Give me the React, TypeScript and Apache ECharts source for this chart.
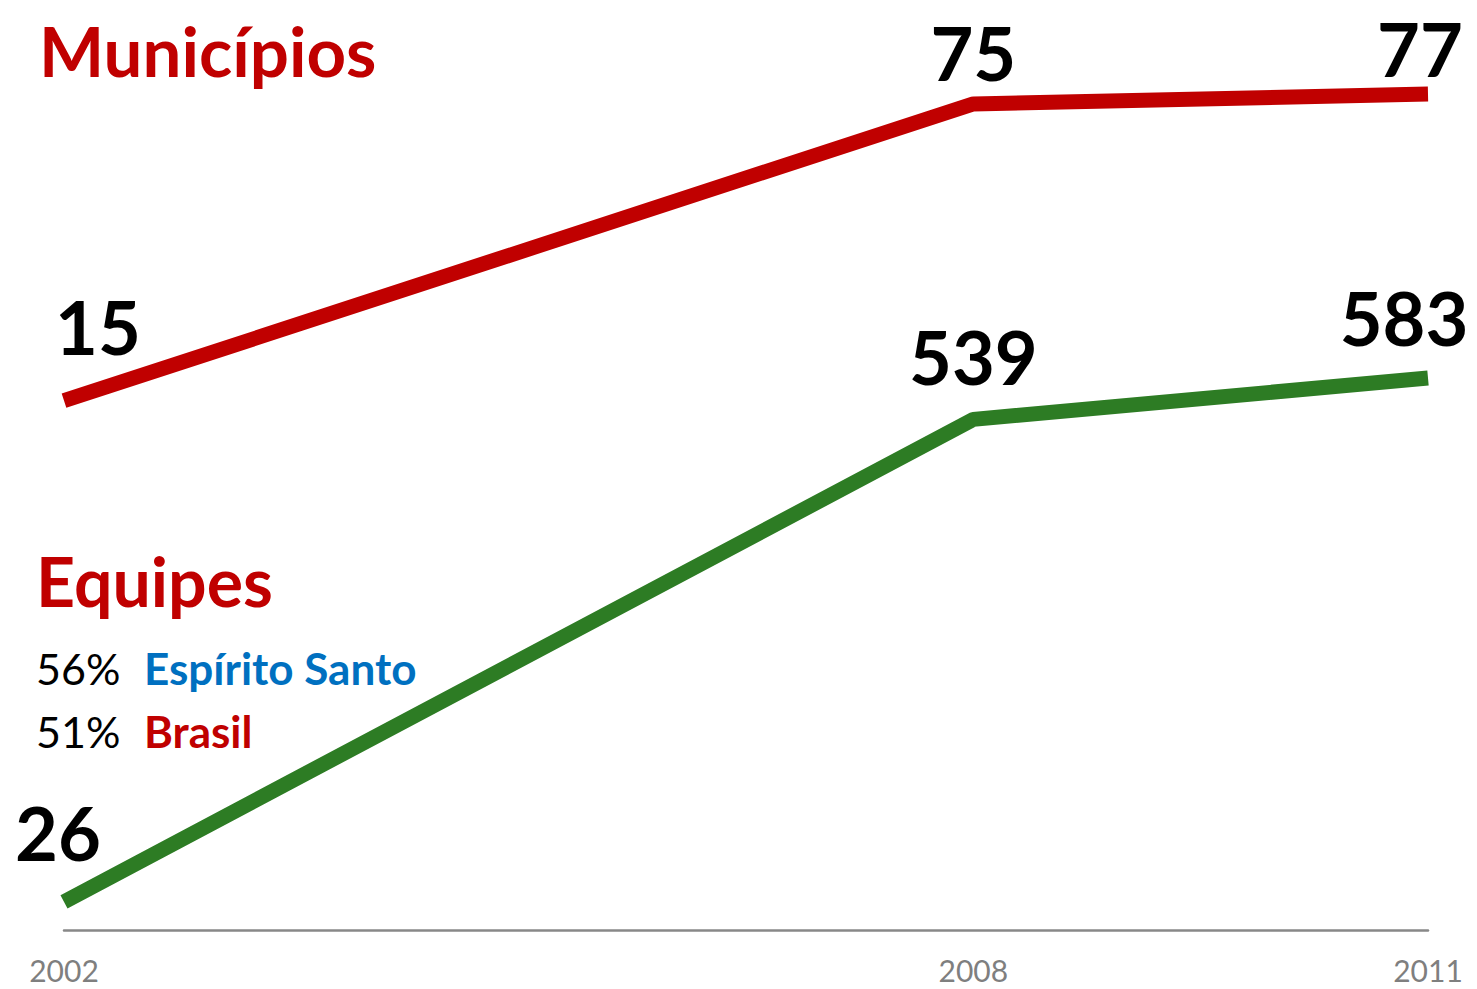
import React, { useEffect, useRef } from "react";
import * as echarts from "echarts";

const years = [2002, 2008, 2011];
const municipios = [15, 75, 77];
const equipes = [26, 539, 583];
const shownYears = ["2002", "2008", "2011"];
const legendRows = [
  { pct: "56%", name: "Espírito Santo", color: "#0070c0" },
  { pct: "51%", name: "Brasil", color: "#c00000" },
];

const FONT = "Lato, 'Open Sans', sans-serif";

export default function App() {
  const ref = useRef<HTMLDivElement>(null);
  useEffect(() => {
    if (!ref.current) return;
    const chart = echarts.init(ref.current, null, { renderer: "svg" });
    const redOffsets = [[34, -43], [0, -20], [-8, -14]];
    const greenOffsets = [[-6, -38], [0, -31], [-24, -29]];
    const labelStyle = {
      show: true,
      position: "top",
      distance: 0,
      color: "#000",
      fontFamily: FONT,
      fontWeight: "bold",
      fontSize: 74,
      lineHeight: 62,
    };
    const legendGraphics: any[] = [];
    legendRows.forEach((r, i) => {
      const y = 668 + i * 63;
      legendGraphics.push({
        type: "text",
        x: 36,
        y,
        style: { text: r.pct, fill: "#000", font: `43px ${FONT}`, textVerticalAlign: "middle" },
      });
      legendGraphics.push({
        type: "text",
        x: 144,
        y,
        style: { text: r.name, fill: r.color, font: `bold 44px ${FONT}`, textVerticalAlign: "middle" },
      });
    });
    const transparentItem = { color: "rgba(0,0,0,0)", borderWidth: 0 };
    chart.setOption({
      animation: false,
      backgroundColor: "#fff",
      grid: { left: 64, right: 49, top: 0, bottom: 59, containLabel: false },
      xAxis: {
        type: "value",
        min: 2002,
        max: 2011,
        interval: 1,
        splitLine: { show: false },
        axisTick: { show: false },
        axisLine: { show: true, onZero: false, lineStyle: { color: "#888", width: 2.5 } },
        axisLabel: {
          color: "#7f7f7f",
          fontFamily: FONT,
          fontSize: 30,
          margin: 25,
          showMinLabel: true,
          showMaxLabel: true,
          formatter: (v: number) => (shownYears.includes(String(v)) ? String(v) : ""),
        },
      },
      yAxis: [
        { type: "value", min: -92, max: 96, show: false, splitLine: { show: false } },
        { type: "value", min: -4, max: 985, show: false, splitLine: { show: false } },
      ],
      series: [
        {
          name: "Municípios",
          type: "line",
          yAxisIndex: 0,
          symbol: "circle",
          symbolSize: 1,
          showSymbol: true,
          itemStyle: transparentItem,
          lineStyle: { color: "#c00000", width: 15 },
          data: years.map((y, i) => ({
            value: [y, municipios[i]],
            label: { ...labelStyle, offset: redOffsets[i] },
          })),
          label: labelStyle,
        },
        {
          name: "Equipes",
          type: "line",
          yAxisIndex: 1,
          symbol: "circle",
          symbolSize: 1,
          showSymbol: true,
          itemStyle: transparentItem,
          lineStyle: { color: "#2d7c24", width: 15 },
          data: years.map((y, i) => ({
            value: [y, equipes[i]],
            label: { ...labelStyle, offset: greenOffsets[i] },
          })),
          label: labelStyle,
        },
      ],
      graphic: [
        {
          type: "text",
          x: 39,
          y: 50,
          style: { text: "Municípios", fill: "#c00000", font: `bold 69px ${FONT}`, textVerticalAlign: "middle" },
        },
        {
          type: "text",
          x: 36,
          y: 580,
          style: { text: "Equipes", fill: "#c00000", font: `bold 68px ${FONT}`, textVerticalAlign: "middle" },
        },
        ...legendGraphics,
      ],
    });
    return () => chart.dispose();
  }, []);
  return (
    <div
      ref={ref}
      style={{ position: "absolute", left: 0, top: 0, width: 1477, height: 989 }}
    />
  );
}
